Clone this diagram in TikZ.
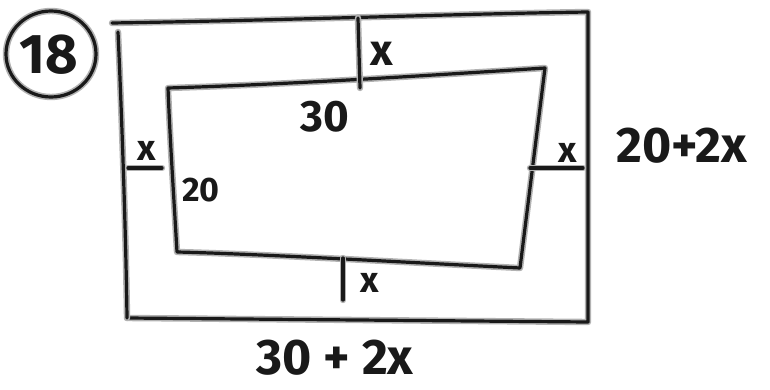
\documentclass[tikz,border=0pt]{standalone}
\usepackage{fontspec}
\setmainfont{Fira Sans}
\begin{document}
\begin{tikzpicture}[x=1pt,y=-1pt,
  pen/.style={line width=3.2pt, draw=black!90, line cap=round, line join=round,
    preaction={draw=gray!60, line width=6.4pt, line cap=round, line join=round}},
  lbl/.style={font=\fontsize{#1}{#1}\selectfont\bfseries, text=black!90, inner sep=0pt}]
\useasboundingbox (0,0) rectangle (770,390);
% outer frame
\draw[pen] (112,23) .. controls (300,20) and (450,14) .. (588,12) -- (588,322) -- (127,318);
\draw[pen] (118,32) .. controls (122,120) and (126,240) .. (127,318);
% inner frame
\draw[pen] (168,88) .. controls (300,84) and (450,74) .. (545,68) -- (520,268)
  .. controls (400,262) and (260,254) .. (177,252) .. controls (174,200) and (170,140) .. cycle;
% ticks
\coordinate (t1) at (358,18); \coordinate (t2) at (360,88);
\coordinate (l1) at (128,168); \coordinate (l2) at (162,168);
\coordinate (r1) at (530,168); \coordinate (r2) at (583,168);
\coordinate (b1) at (343,258); \coordinate (b2) at (343,300);
\draw[pen] (t1) -- (t2);
\draw[pen] (l1) -- (l2);
\draw[pen] (r1) -- (r2);
\draw[pen] (b1) -- (b2);
% labels
\node[lbl=44] (xt) at (382,54) {x};
\node[lbl=36] (xl) at (147,151) {x};
\node[lbl=36] (xr) at (568,153) {x};
\node[lbl=36] (xb) at (370,283) {x};
\node[lbl=44] (thirty) at (325,117) {30};
\node[lbl=34] (twenty) at (201,190) {20};
\node[lbl=50] (rlab) at (682,146) {20+2x};
\node[lbl=50] (blab) at (335,358) {30 + 2x};
\node[lbl=56] (num) at (49,55) {18};
\draw[pen] (51,54) ellipse [x radius=45, y radius=43];
\end{tikzpicture}
\end{document}
